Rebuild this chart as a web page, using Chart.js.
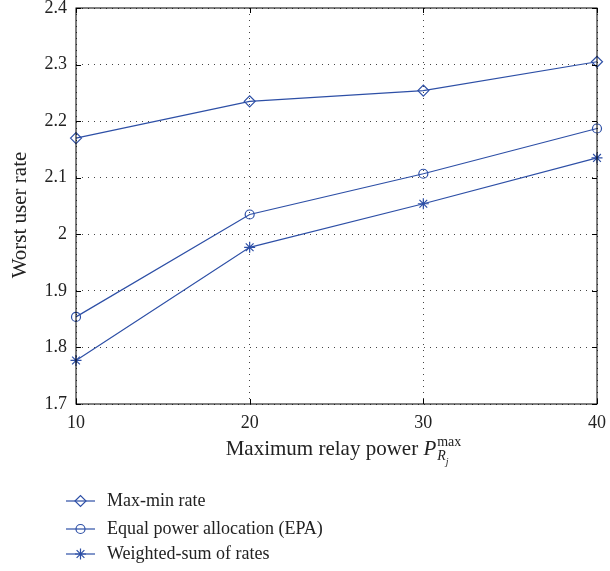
<!DOCTYPE html>
<html>
<head>
<meta charset="utf-8">
<script src="https://cdn.jsdelivr.net/npm/chart.js@4"></script>
<style>
  body { margin: 0; background: #fff; }
  #wrap { width: 610px; height: 571px; position: relative; }
</style>
</head>
<body>
<div id="wrap"><canvas id="rateChart"></canvas></div>
<script>
// Data
const relayPower = [10, 20, 30, 40]
const maxMinRate = [2.170, 2.235, 2.254, 2.305]
const epaRate = [1.854, 2.035, 2.107, 2.187]
const weightedSumRate = [1.777, 1.977, 2.054, 2.135]

const xTickValues = [10, 20, 30, 40]
const yTickValues = [1.7, 1.8, 1.9, 2.0, 2.1, 2.2, 2.3, 2.4]
const yTickLabels = ['1.7', '1.8', '1.9', '2', '2.1', '2.2', '2.3', '2.4']

const seriesNames = ['Max-min rate', 'Equal power allocation (EPA)', 'Weighted-sum of rates']

const blue = '#2d4fa6'
const serif = '"Liberation Serif", "DejaVu Serif", serif'

function toPoints(ys) {
    return relayPower.map((x, i) => ({ x: x, y: ys[i] }))
}

function series(label, ys, style, radius) {
    return {
        label: label,
        data: toPoints(ys),
        borderColor: blue,
        borderWidth: 1.2,
        backgroundColor: 'rgba(0,0,0,0)',
        pointStyle: style,
        pointRadius: radius,
        pointBorderWidth: 1.2,
        pointBorderColor: blue,
        pointBackgroundColor: 'rgba(0,0,0,0)',
        tension: 0,
        fill: false,
        clip: false
    }
}

// marker drawing for the legend
function drawMarker(ctx, style, x, y, r) {
    ctx.beginPath()
    if (style === 'rectRot') {
        ctx.moveTo(x - r, y)
        ctx.lineTo(x, y - r)
        ctx.lineTo(x + r, y)
        ctx.lineTo(x, y + r)
        ctx.closePath()
    } else if (style === 'circle') {
        ctx.arc(x, y, r, 0, Math.PI * 2)
    } else if (style === 'star') {
        for (let k = 0; k < 4; k++) {
            const a = k * Math.PI / 4
            ctx.moveTo(x - Math.cos(a) * r, y - Math.sin(a) * r)
            ctx.lineTo(x + Math.cos(a) * r, y + Math.sin(a) * r)
        }
    }
    ctx.stroke()
}

// frame, inward ticks, axis titles and legend in matlab style
const matlabLook = {
    id: 'matlabLook',
    afterDraw(chart) {
        const ctx = chart.ctx
        const a = chart.chartArea
        const xs = chart.scales.x
        const ys = chart.scales.y
        ctx.save()
        ctx.strokeStyle = '#000'
        ctx.lineWidth = 1
        ctx.strokeRect(a.left, a.top, a.right - a.left, a.bottom - a.top)

        const tl = 5
        ctx.beginPath()
        xTickValues.forEach(v => {
            const px = Math.round(xs.getPixelForValue(v)) + 0.5
            ctx.moveTo(px, a.bottom); ctx.lineTo(px, a.bottom - tl)
            ctx.moveTo(px, a.top); ctx.lineTo(px, a.top + tl)
        })
        yTickValues.forEach(v => {
            const py = Math.round(ys.getPixelForValue(v)) + 0.5
            ctx.moveTo(a.left, py); ctx.lineTo(a.left + tl, py)
            ctx.moveTo(a.right, py); ctx.lineTo(a.right - tl, py)
        })
        ctx.stroke()

        // y title
        ctx.fillStyle = '#222'
        ctx.save()
        ctx.translate(26, 215)
        ctx.rotate(-Math.PI / 2)
        ctx.font = '21px ' + serif
        ctx.textAlign = 'center'
        ctx.textBaseline = 'alphabetic'
        ctx.fillText('Worst user rate', 0, 0)
        ctx.restore()

        // x title with P_{R_j}^{max}
        const main = 'Maximum relay power '
        const fMain = '21px ' + serif
        const fP = 'italic 21px ' + serif
        const fSup = '14px ' + serif
        const fSub = 'italic 14px ' + serif
        const fSub2 = 'italic 10px ' + serif
        ctx.font = fMain; const wMain = ctx.measureText(main).width
        ctx.font = fP; const wP = ctx.measureText('P').width
        ctx.font = fSup; const wSup = ctx.measureText('max').width
        ctx.font = fSub; const wR = ctx.measureText('R').width
        ctx.font = fSub2; const wj = ctx.measureText('j').width
        const total = wMain + wP + 1 + Math.max(wSup, wR + wj)
        let x0 = (a.left + a.right) / 2 - total / 2 + 7
        const base = 455
        ctx.textAlign = 'left'
        ctx.font = fMain; ctx.fillText(main, x0, base); x0 += wMain
        ctx.font = fP; ctx.fillText('P', x0, base); x0 += wP + 1
        ctx.font = fSup; ctx.fillText('max', x0, base - 9)
        ctx.font = fSub; ctx.fillText('R', x0, base + 5)
        ctx.font = fSub2; ctx.fillText('j', x0 + wR, base + 10)

        // legend
        const rowY = [501, 529, 554]
        ctx.font = '18px ' + serif
        ctx.textBaseline = 'middle'
        chart.data.datasets.forEach((ds, i) => {
            const y = rowY[i]
            ctx.strokeStyle = ds.borderColor
            ctx.lineWidth = ds.borderWidth
            ctx.beginPath()
            ctx.moveTo(66, y); ctx.lineTo(95, y)
            ctx.stroke()
            drawMarker(ctx, ds.pointStyle, 80.5, y, ds.pointRadius)
            ctx.fillStyle = '#222'
            ctx.fillText(ds.label, 107, y)
        })
        ctx.restore()
    }
}

new Chart(document.getElementById('rateChart'), {
    type: 'line',
    data: {
        datasets: [
            series(seriesNames[0], maxMinRate, 'rectRot', 5.5),
            series(seriesNames[1], epaRate, 'circle', 4.5),
            series(seriesNames[2], weightedSumRate, 'star', 5.5)
        ]
    },
    options: {
        responsive: true,
        maintainAspectRatio: false,
        animation: false,
        layout: { padding: { left: 0, right: 13, top: 8, bottom: 0 } },
        plugins: {
            legend: { display: false },
            tooltip: { enabled: false }
        },
        scales: {
            x: {
                type: 'linear',
                min: 10,
                max: 40,
                afterBuildTicks: s => { s.ticks = xTickValues.map(v => ({ value: v })) },
                afterFit: s => { s.height = 167; s.paddingLeft = 0; s.paddingRight = 0 },
                ticks: {
                    padding: 8,
                    color: '#222',
                    font: { family: serif, size: 18 },
                    maxRotation: 0,
                    callback: v => String(v)
                },
                grid: { color: '#444', lineWidth: 1, drawTicks: false },
                border: { display: false, dash: [1, 5] }
            },
            y: {
                min: 1.7,
                max: 2.4,
                afterBuildTicks: s => { s.ticks = yTickValues.map(v => ({ value: v })) },
                afterFit: s => { s.width = 76; s.paddingTop = 0; s.paddingBottom = 0 },
                ticks: {
                    padding: 9,
                    color: '#222',
                    font: { family: serif, size: 18 },
                    callback: (v, i) => yTickLabels[i]
                },
                grid: { color: '#444', lineWidth: 1, drawTicks: false },
                border: { display: false, dash: [1, 5] }
            }
        }
    },
    plugins: [matlabLook]
})
</script>
</body>
</html>
